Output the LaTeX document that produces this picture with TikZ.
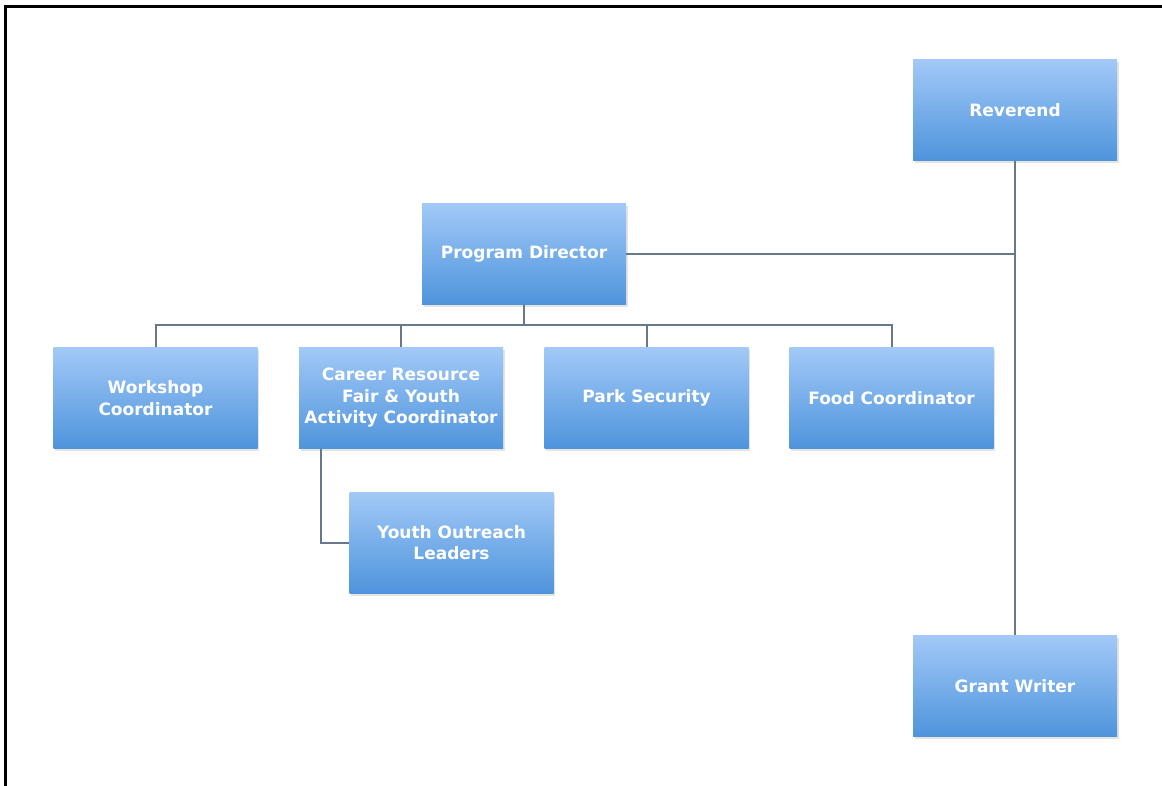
\documentclass[tikz,border=0pt]{standalone}
\usepackage{fontspec}
\newfontfamily\boxfont{DejaVu Sans}
\usetikzlibrary{shadows}
\definecolor{boxtop}{HTML}{A2C9F7}
\definecolor{boxbot}{HTML}{4E94DC}
\definecolor{linkc}{HTML}{66788A}
\tikzset{
  orgbox/.style={rectangle, minimum width=204pt, minimum height=101pt, inner sep=2pt,
    top color=boxtop, bottom color=boxbot, draw=none, text=white, align=center,
    font=\boxfont\bfseries\fontsize{17}{21.5}\selectfont,
    drop shadow={opacity=0.18, fill=black!60, shadow xshift=1.5pt, shadow yshift=-2.5pt}},
  link/.style={draw=linkc, line width=2pt},
  frame/.style={draw=black, line width=3pt}
}
\begin{document}
\begin{tikzpicture}[x=1pt,y=-1pt]
\useasboundingbox (0,0) rectangle (1162,785);
\fill[white] (0,0) rectangle (1162,785);
% frame
\draw[frame] (5,786) -- (5,6) -- (1163,6);
% nodes
\node[orgbox] (rev) at (1015,110) {Reverend};
\node[orgbox] (pd) at (524,254) {Program Director};
\node[orgbox] (ws) at (155.5,398) {Workshop\\Coordinator};
\node[orgbox] (cr) at (401,398) {Career Resource\\Fair \& Youth\\Activity Coordinator};
\node[orgbox] (ps) at (646.5,398) {Park Security};
\node[orgbox] (fc) at (891.5,398) {Food Coordinator};
\node[orgbox] (yo) at (451.5,542.5) {Youth Outreach\\Leaders};
\node[orgbox] (gw) at (1015,686) {Grant Writer};
\coordinate (bus) at (524,325);
% connectors
\draw[link] (rev.south) -- (gw.north);
\draw[link] (pd.east) -- (pd.east -| rev.south);
\draw[link] (pd.south) -- (bus);
\draw[link] (ws.north) |- (bus) -| (fc.north);
\draw[link] (cr.north) -- (cr.north |- bus);
\draw[link] (ps.north) -- (ps.north |- bus);
\draw[link] ([xshift=-80pt]cr.south) |- (yo.west);
\end{tikzpicture}
\end{document}
